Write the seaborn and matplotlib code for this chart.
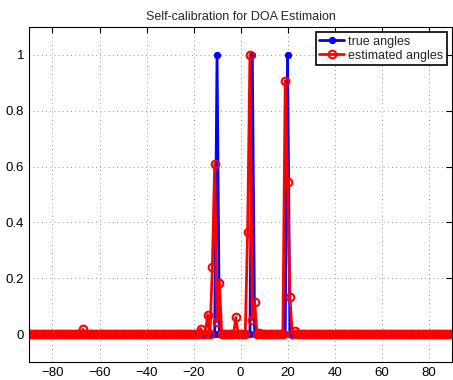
import numpy as np
import pandas as pd
import matplotlib
matplotlib.use("Agg")
import matplotlib.pyplot as plt
import seaborn as sns

# Angle grid (degrees)
angle_min, angle_max = -90, 90
# Non-zero values of each spectrum (angle -> value); elsewhere 0
true_peaks = {-10: 1.0, 5: 1.0, 20: 1.0}
est_peaks = {-67: 0.017, -17: 0.02, -14: 0.07, -12: 0.24, -11: 0.61, -10: 0.045,
             -9: 0.185, -2: 0.06, 3: 0.365, 4: 1.0, 5: 0.052, 6: 0.116, 8: 0.005,
             19: 0.907, 20: 0.545, 21: 0.133, 23: 0.01}
x_ticks = [-80, -60, -40, -20, 0, 20, 40, 60, 80]
y_ticks = [0, 0.2, 0.4, 0.6, 0.8, 1.0]
y_ticklabels = ["0", "0.2", "0.4", "0.6", "0.8", "1"]
title = "Self-calibration for DOA Estimaion"

angles = np.arange(angle_min, angle_max + 1)
true_vals = np.array([true_peaks.get(a, 0.0) for a in angles])
est_vals = np.array([est_peaks.get(a, 0.0) for a in angles])
df = pd.DataFrame({"angle": angles, "true": true_vals, "est": est_vals})

sns.set_style("white")
plt.rcParams["font.family"] = ["Liberation Sans", "DejaVu Sans"]

fig = plt.figure(figsize=(4.53, 3.80), dpi=100)
ax = fig.add_axes([0.064, 0.047, 0.934, 0.882])

sns.lineplot(data=df, x="angle", y="true", ax=ax, color="#0000ff", linewidth=2,
             marker="o", markersize=4.5, markeredgecolor="#0000ff",
             label="true angles")
sns.lineplot(data=df, x="angle", y="est", ax=ax, color="#ff0000", linewidth=2,
             marker="o", markersize=5.5, markerfacecolor="none",
             markeredgecolor="#ff0000", markeredgewidth=1.5,
             label="estimated angles")

ax.set_xlim(-90, 90)
ax.set_ylim(-0.1, 1.1)
ax.set_xticks(x_ticks)
ax.set_yticks(y_ticks)
ax.set_yticklabels(y_ticklabels)
ax.set_xlabel("")
ax.set_ylabel("")
ax.set_title(title, fontsize=9, pad=5)
ax.grid(True, linestyle=(0, (1, 4)), color="#777777", linewidth=0.6)
ax.tick_params(direction="in", length=4, width=0.8, labelsize=9.5,
               top=True, right=True, colors="black")
for s in ax.spines.values():
    s.set_color("black")
    s.set_linewidth(0.8)

leg = ax.legend(loc="upper right", fontsize=9, frameon=True, fancybox=False,
                framealpha=1, edgecolor="black", borderpad=0.3,
                handlelength=2.0, handletextpad=0.3, labelspacing=0.15,
                borderaxespad=0.4)
leg.get_frame().set_linewidth(1.2)

fig.savefig("out.png", dpi=100)
